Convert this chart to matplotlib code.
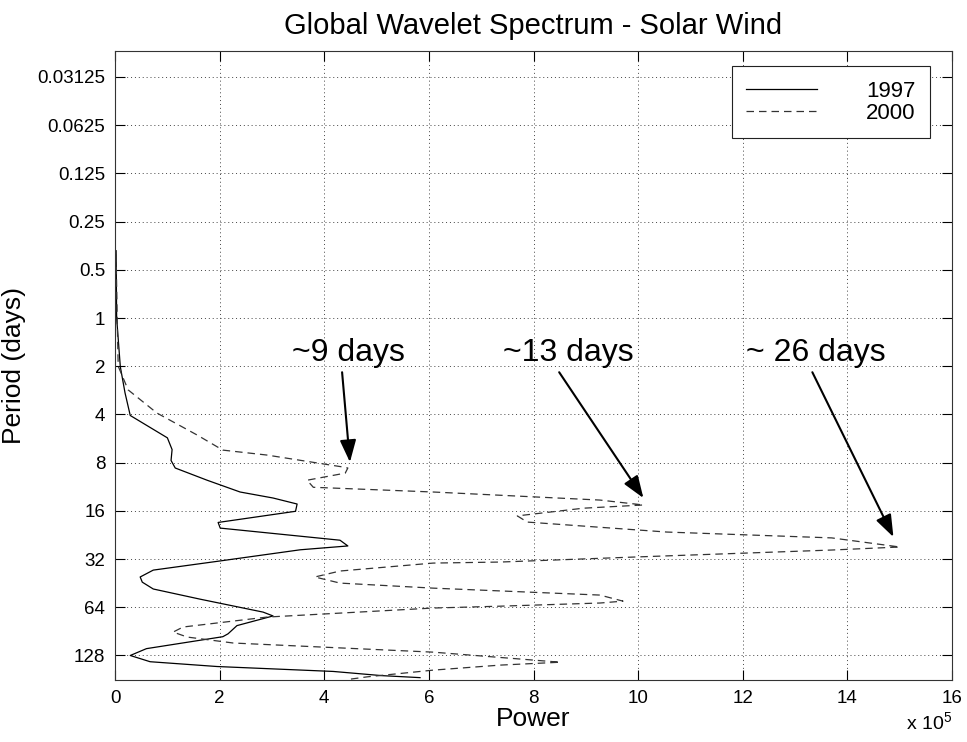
import numpy as np
import matplotlib
matplotlib.use('Agg')
import matplotlib.pyplot as plt
from matplotlib.ticker import FixedLocator, FixedFormatter

plt.rcParams['font.family'] = ['Liberation Sans', 'DejaVu Sans']
plt.rcParams['mathtext.fontset'] = 'custom'
plt.rcParams['mathtext.rm'] = 'Liberation Sans'

# global wavelet spectrum, 1997 (solid)
period_1997 = [0.38, 1.0, 2.01, 2.93, 4.06, 5.6, 6.63, 7.75, 8.64, 10.3, 12.2, 13.3,
               14.5, 16.1, 18.9, 20.5, 24.4, 26.5, 28.0, 32.9, 37.5, 41.4, 44.6, 49.2,
               56.9, 68.6, 72.5, 83.3, 93.7, 97.7, 116, 128, 140, 150, 161, 171, 176]
power_1997 = [0.02, 0.03, 0.10, 0.19, 0.29, 1.0, 1.09, 1.07, 1.15, 1.76, 2.39, 3.02,
              3.48, 3.45, 1.97, 2.01, 4.30, 4.45, 3.54, 2.00, 0.73, 0.48, 0.52, 0.73,
              1.62, 2.83, 3.02, 2.33, 2.16, 2.06, 0.60, 0.29, 0.67, 1.95, 4.17, 5.10, 5.83]

# global wavelet spectrum, 2000 (dashed)
period_2000 = [0.40, 1.0, 2.0, 2.81, 3.92, 5.38, 6.68, 7.17, 8.52, 8.64, 9.3, 10.3,
               11.4, 12.2, 13.7, 14.7, 15.4, 17.2, 18.8, 21.7, 23.6, 26.9, 28.1, 31.1,
               33.4, 33.9, 38.0, 41.4, 45.2, 48.6, 53.7, 58.6, 60.2, 63.0, 64.7, 73.7,
               85.0, 91.4, 98.2, 107, 122, 141, 147, 158, 174, 180]
power_2000 = [0.02, 0.04, 0.06, 0.25, 0.80, 1.57, 2.06, 2.90, 4.36, 4.45, 4.40, 3.67,
              3.79, 6.08, 9.27, 10.1, 8.95, 7.69, 7.88, 10.55, 13.7, 15.0, 13.7, 9.9,
              7.36, 6.08, 4.30, 3.82, 4.30, 6.08, 9.27, 9.71, 9.27, 7.36, 6.08, 2.90,
              1.30, 1.11, 1.38, 2.26, 6.08, 8.51, 7.36, 6.08, 4.82, 4.49]

yticks = [0.03125, 0.0625, 0.125, 0.25, 0.5, 1, 2, 4, 8, 16, 32, 64, 128]
ytick_labels = ['0.03125', '0.0625', '0.125', '0.25', '0.5', '1', '2', '4', '8',
                '16', '32', '64', '128']

# peak annotations
ann_labels = ['~9 days', '~13 days', '~ 26 days']
ann_tip_power = [4.49, 10.1, 14.88]
ann_tip_period = [7.94, 13.3, 23.3]
ann_tail_power = [4.34, 8.49, 13.33]
ann_text_power = [4.46, 8.66, 13.4]

fig = plt.figure(figsize=(9.67, 7.42), dpi=100)
ax = fig.add_axes([0.119, 0.0836, 0.8655, 0.8477])

ax.plot(power_1997, period_1997, color='k', lw=0.9, label='1997')
ax.plot(power_2000, period_2000, color='#333333', lw=0.9, dashes=(6, 4), label='2000')

ax.set_yscale('log', base=2)
ax.set_ylim(182, 0.0215)
ax.set_xlim(0, 16)
ax.set_xticks(np.arange(0, 17, 2))
ax.yaxis.set_major_locator(FixedLocator(yticks))
ax.yaxis.set_major_formatter(FixedFormatter(ytick_labels))
ax.yaxis.set_minor_locator(FixedLocator([]))

ax.tick_params(direction='in', length=7, width=0.8, labelsize=13.5, top=True, right=True, pad=7)
ax.grid(True, color='#444444', linestyle=(0, (1, 3)), lw=0.7)
for s in ax.spines.values():
    s.set_linewidth(0.8)
    s.set_color('#333333')

ax.set_title('Global Wavelet Spectrum - Solar Wind', fontsize=21, pad=12)
ax.set_xlabel('Power', fontsize=19, labelpad=0)
ax.set_ylabel('Period (days)', fontsize=19, labelpad=8)
fig.text(0.937, 0.016, r'x 10$^5$', fontsize=14)

for i in range(len(ann_labels)):
    ax.text(ann_text_power[i], 1.85, ann_labels[i], fontsize=23, ha='center', va='baseline')
    ax.annotate('', xy=(ann_tip_power[i], ann_tip_period[i]), xytext=(ann_tail_power[i], 2.18),
                arrowprops=dict(arrowstyle='-|>,head_length=0.9,head_width=0.33', color='k',
                                lw=1.5, mutation_scale=15, shrinkA=0, shrinkB=0))

leg = ax.legend(loc='upper right', bbox_to_anchor=(0.974, 0.976), fontsize=16,
                handlelength=3.2, handletextpad=2.2, fancybox=False, framealpha=1,
                edgecolor='#222222', borderpad=0.65, labelspacing=0.05, borderaxespad=0)
leg.get_frame().set_linewidth(0.8)

fig.savefig('out.png', dpi=100)
